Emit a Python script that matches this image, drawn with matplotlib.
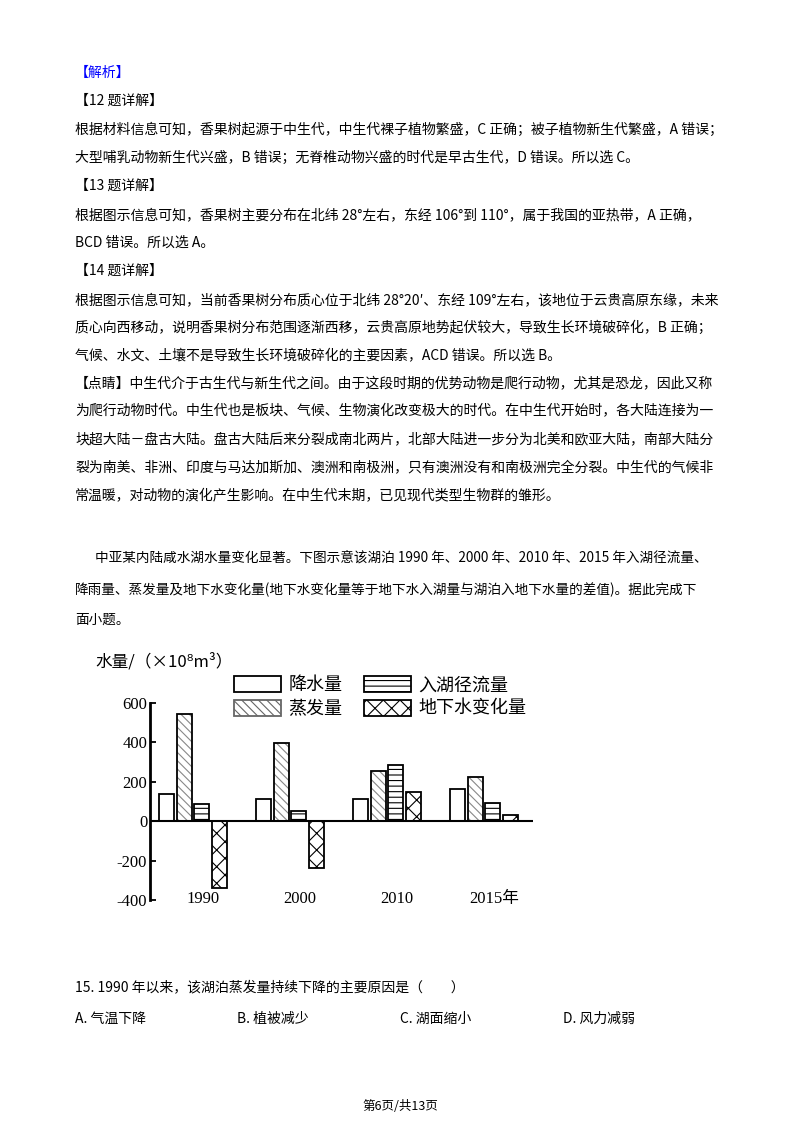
import matplotlib
matplotlib.use("Agg")
import matplotlib.pyplot as plt
import numpy as np

plt.rcParams['font.family'] = ['Noto Sans CJK SC', 'DejaVu Sans']
plt.rcParams['hatch.linewidth'] = 0.8

years = ['1990', '2000', '2010', '2015年']
series = ['降水量', '蒸发量', '入湖径流量', '地下水变化量']
precip = [140, 115, 111, 162]
evap = [545, 398, 253, 222]
runoff = [88, 50, 283, 91]
ground = [-337, -240, 150, 34]

lines = [
    (73, '【解析】', 'blue'),
    (101, '【12 题详解】', 'k'),
    (130, '根据材料信息可知，香果树起源于中生代，中生代裸子植物繁盛，C 正确；被子植物新生代繁盛，A 错误；', 'k'),
    (158, '大型哺乳动物新生代兴盛，B 错误；无脊椎动物兴盛的时代是早古生代，D 错误。所以选 C。', 'k'),
    (186, '【13 题详解】', 'k'),
    (215, '根据图示信息可知，香果树主要分布在北纬 28°左右，东经 106°到 110°，属于我国的亚热带，A 正确，', 'k'),
    (243, 'BCD 错误。所以选 A。', 'k'),
    (271, '【14 题详解】', 'k'),
    (300, '根据图示信息可知，当前香果树分布质心位于北纬 28°20′、东经 109°左右，该地位于云贵高原东缘，未来', 'k'),
    (328, '质心向西移动，说明香果树分布范围逐渐西移，云贵高原地势起伏较大，导致生长环境破碎化，B 正确；', 'k'),
    (356, '气候、水文、土壤不是导致生长环境破碎化的主要因素，ACD 错误。所以选 B。', 'k'),
    (383, '【点睛】中生代介于古生代与新生代之间。由于这段时期的优势动物是爬行动物，尤其是恐龙，因此又称', 'k'),
    (411, '为爬行动物时代。中生代也是板块、气候、生物演化改变极大的时代。在中生代开始时，各大陆连接为一', 'k'),
    (439, '块超大陆－盘古大陆。盘古大陆后来分裂成南北两片，北部大陆进一步分为北美和欧亚大陆，南部大陆分', 'k'),
    (467, '裂为南美、非洲、印度与马达加斯加、澳洲和南极洲，只有澳洲没有和南极洲完全分裂。中生代的气候非', 'k'),
    (496, '常温暖，对动物的演化产生影响。在中生代末期，已见现代类型生物群的雏形。', 'k'),
]

fig = plt.figure(figsize=(8, 11.32), dpi=100)
H = 1132
for y, t, c in lines:
    fig.text(75 / 800, 1 - y / H, t, fontsize=10, color=c, va='center')

para = [(559, 95, '中亚某内陆咸水湖水量变化显著。下图示意该湖泊 1990 年、2000 年、2010 年、2015 年入湖径流量、'),
        (590, 75, '降雨量、蒸发量及地下水变化量(地下水变化量等于地下水入湖量与湖泊入地下水量的差值)。据此完成下'),
        (620, 75, '面小题。')]
for y, x, t in para:
    fig.text(x / 800, 1 - y / H, t, fontsize=9.8, va='center')

fig.text(75 / 800, 1 - 987 / H, '15. 1990 年以来，该湖泊蒸发量持续下降的主要原因是（　　）', fontsize=10, va='center')
for x, t in [(75, 'A. 气温下降'), (237, 'B. 植被减少'), (400, 'C. 湖面缩小'), (563, 'D. 风力减弱')]:
    fig.text(x / 800, 1 - 1019 / H, t, fontsize=10, va='center')
fig.text(0.5, 1 - 1106 / H, '第6页/共13页', fontsize=9, ha='center', va='center')

# chart
ax = fig.add_axes([150 / 800, 1 - 900 / H, 383 / 800, 197 / H])
x = np.arange(len(years))
off = 0.183
w = 0.155
kw = dict(width=w, edgecolor='k', linewidth=1.3, facecolor='white')
ax.bar(x - 1.5 * off, precip, label=series[0], **kw)
# evaporation: light grey hatch under a black outline
ax.bar(x - 0.5 * off, evap, width=w, facecolor='white', edgecolor='#888888', linewidth=0, hatch='\\\\\\\\')
ax.bar(x - 0.5 * off, evap, width=w, facecolor='none', edgecolor='k', linewidth=1.3)
ax.bar(x + 0.5 * off, runoff, hatch='---', label=series[2], **kw)
ax.bar(x + 1.5 * off, ground, hatch='xx', label=series[3], **kw)
ax.axhline(0, color='k', lw=1.5)
ax.set_xlim(-0.443, 3.505)
ax.set_ylim(-400, 600)
ax.set_yticks([-400, -200, 0, 200, 400, 600])
ax.set_yticklabels(['-400', '-200', '0', '200', '400', '600'], family='Liberation Serif', fontsize=12)
ax.tick_params(axis='y', direction='in', length=4, width=1.3, pad=2)
ax.set_xticks([])
for s in ['top', 'right', 'bottom']:
    ax.spines[s].set_visible(False)
ax.spines['left'].set_linewidth(2)
for i, yl in enumerate(years):
    ax.text(i + 0.1, -395, yl, ha='center', va='center', fontsize=12,
            family=['Liberation Serif', 'Noto Sans CJK SC'])
fig.text(95 / 800, 1 - 662 / H, '水量/（×10⁸m³）', fontsize=12, va='center')

from matplotlib.patches import Patch
handles = [Patch(facecolor='white', edgecolor='k', lw=1.3),
           Patch(facecolor='white', edgecolor='#666666', lw=1.3, hatch='\\\\\\\\'),
           Patch(facecolor='white', edgecolor='k', lw=1.3, hatch='---'),
           Patch(facecolor='white', edgecolor='k', lw=1.3, hatch='xx')]
fig.legend(handles, series, ncol=2, frameon=False,
           loc='center left', bbox_to_anchor=(218 / 800, 1 - 697 / H), fontsize=13,
           handlelength=2.6, handleheight=1.0, columnspacing=1.2, labelspacing=0.3,
           handletextpad=0.4)

fig.savefig('out.png', dpi=100)
